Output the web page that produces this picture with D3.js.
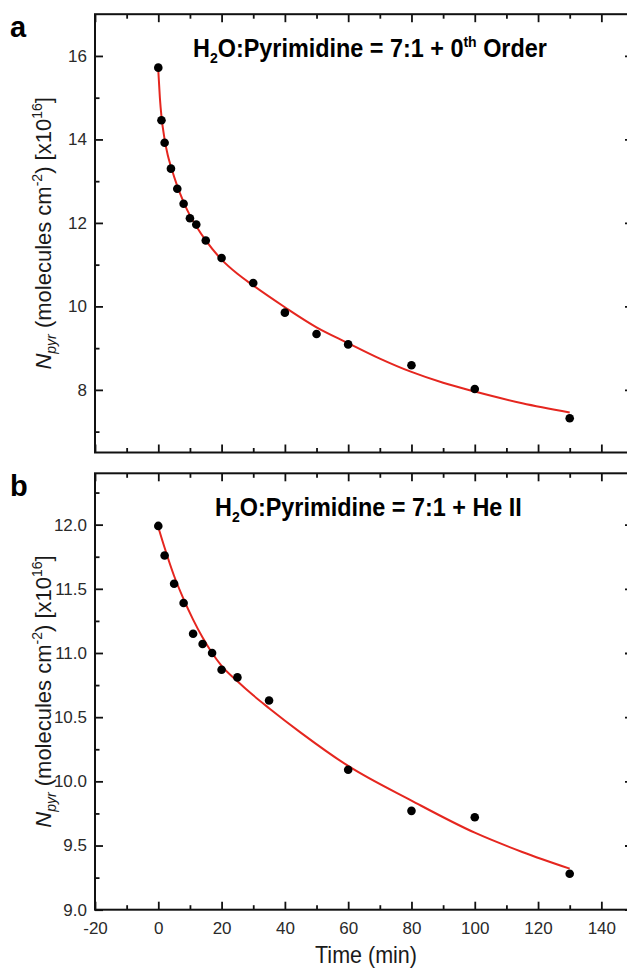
<!DOCTYPE html>
<html>
<head>
<meta charset="utf-8">
<script src="https://cdn.jsdelivr.net/npm/d3@7"></script>
<style>
  html, body { margin: 0; padding: 0; background: #fff; }
  svg { display: block; }
  text { font-family: "Liberation Sans", Arial, sans-serif; white-space: pre; }
</style>
</head>
<body>
<svg id="chart" width="627" height="973"></svg>
<script>
// ---------- data ----------
const timeA = [0, 1, 2, 4, 6, 8, 10, 12, 15, 20, 30, 40, 50, 60, 80, 100, 130];
const nA = [15.72, 14.46, 13.92, 13.30, 12.82, 12.46, 12.11, 11.96, 11.58, 11.16, 10.56, 9.85, 9.34, 9.09, 8.59, 8.02, 7.32];
const fitTimeA = [0, 0.5, 1, 2, 3, 4, 6, 8, 10, 12, 15, 20, 25, 30, 40, 50, 60, 70, 80, 90, 100, 115, 130];
const fitA = [15.65, 15.0, 14.55, 14.0, 13.62, 13.35, 12.88, 12.5, 12.18, 11.92, 11.58, 11.12, 10.78, 10.5, 9.98, 9.5, 9.12, 8.75, 8.43, 8.17, 7.96, 7.68, 7.46];

const timeB = [0, 2, 5, 8, 11, 14, 17, 20, 25, 35, 60, 80, 100, 130];
const nB = [11.99, 11.76, 11.54, 11.39, 11.15, 11.07, 11.0, 10.87, 10.81, 10.63, 10.09, 9.77, 9.72, 9.28];
const fitTimeB = [0, 2, 5, 8, 11, 14, 17, 20, 25, 30, 35, 45, 60, 80, 100, 115, 130];
const fitB = [11.98, 11.82, 11.6, 11.42, 11.26, 11.12, 11.0, 10.9, 10.78, 10.67, 10.57, 10.38, 10.12, 9.85, 9.6, 9.45, 9.32];

const xMajor = [-20, 0, 20, 40, 60, 80, 100, 120, 140];
const xMinor = [-10, 10, 30, 50, 70, 90, 110, 130];
const yMajorA = [8, 10, 12, 14, 16];
const yMinorA = [7, 9, 11, 13, 15];
const yMajorB = [9.0, 9.5, 10.0, 10.5, 11.0, 11.5, 12.0];
const yMinorB = [9.25, 9.75, 10.25, 10.75, 11.25, 11.75, 12.25];

const titleA = ["H", "2", "O:Pyrimidine = 7:1 + 0", "th", " Order"];
const titleB = ["H", "2", "O:Pyrimidine = 7:1 + He II"];

// ---------- layout ----------
const svg = d3.select("#chart");
const left = 95, right = 633;
const x = d3.scaleLinear().domain([-20, 150]).range([left, right]);

const panels = [
  { top: 14.2, bottom: 452.5, domain: [6.5, 17], major: yMajorA, minor: yMinorA, fmt: d3.format("d"),
    t: timeA, n: nA, ft: fitTimeA, fn: fitA, label: "a", title: titleA, titleSup: 3, labelX: false, tx: 193 },
  { top: 473.3, bottom: 909.7, domain: [9.0, 12.4], major: yMajorB, minor: yMinorB, fmt: d3.format(".1f"),
    t: timeB, n: nB, ft: fitTimeB, fn: fitB, label: "b", title: titleB, titleSup: -1, labelX: true, tx: 215 }
];

const ink = "#111";
const tickCol = "#2a2a2a";
let titleScale = null;

panels.forEach((p) => {
  const y = d3.scaleLinear().domain(p.domain).range([p.bottom, p.top]);
  const g = svg.append("g");

  const styleAxis = sel => {
    sel.select(".domain").remove();
    sel.selectAll("line").attr("stroke", ink).attr("stroke-width", 1.8);
    sel.selectAll("text").attr("fill", tickCol).style("font-size", "17px")
      .style("font-family", "'Liberation Sans', Arial, sans-serif");
  };
  const blank = () => "";
  // bottom
  g.append("g").attr("transform", `translate(0,${p.bottom})`)
    .call(d3.axisBottom(x).tickValues(xMajor).tickSize(-8).tickPadding(12)
      .tickFormat(p.labelX ? (d => String(d)) : blank))
    .call(styleAxis);
  g.append("g").attr("transform", `translate(0,${p.bottom})`)
    .call(d3.axisBottom(x).tickValues(xMinor).tickSize(-4.5).tickFormat(blank))
    .call(styleAxis);
  // top
  g.append("g").attr("transform", `translate(0,${p.top})`)
    .call(d3.axisTop(x).tickValues(xMajor).tickSize(-8).tickFormat(blank))
    .call(styleAxis);
  g.append("g").attr("transform", `translate(0,${p.top})`)
    .call(d3.axisTop(x).tickValues(xMinor).tickSize(-4.5).tickFormat(blank))
    .call(styleAxis);
  // left
  g.append("g").attr("transform", `translate(${left},0)`)
    .call(d3.axisLeft(y).tickValues(p.major).tickSize(-8).tickPadding(8).tickFormat(p.fmt))
    .call(styleAxis);
  g.append("g").attr("transform", `translate(${left},0)`)
    .call(d3.axisLeft(y).tickValues(p.minor).tickSize(-4.5).tickFormat(blank))
    .call(styleAxis);
  // right
  g.append("g").attr("transform", `translate(${right},0)`)
    .call(d3.axisRight(y).tickValues(p.major).tickSize(-8).tickFormat(blank))
    .call(styleAxis);
  g.append("g").attr("transform", `translate(${right},0)`)
    .call(d3.axisRight(y).tickValues(p.minor).tickSize(-4.5).tickFormat(blank))
    .call(styleAxis);

  // frame
  g.append("rect").attr("x", left).attr("y", p.top)
    .attr("width", right - left).attr("height", p.bottom - p.top)
    .attr("fill", "none").attr("stroke", ink).attr("stroke-width", 2);

  // fit line
  const line = d3.line().x(d => x(d[0])).y(d => y(d[1])).curve(d3.curveMonotoneX);
  g.append("path").datum(p.ft.map((t, i) => [t, p.fn[i]]))
    .attr("d", line).attr("fill", "none").attr("stroke", "#e5261f").attr("stroke-width", 2);

  // points
  g.selectAll("circle.pt").data(p.t.map((t, i) => [t, p.n[i]])).join("circle")
    .attr("class", "pt").attr("cx", d => x(d[0])).attr("cy", d => y(d[1]))
    .attr("r", 4.3).attr("fill", "#000");

  // panel letter
  g.append("text").attr("x", 10).attr("y", p.top + 23)
    .style("font-size", "29px").style("font-weight", "bold").attr("fill", "#000").text(p.label);

  // title
  const tg = g.append("g");
  const tt = tg.append("text").attr("x", 0).attr("y", 0)
    .style("font-size", "25px").style("font-weight", "bold").attr("fill", "#000");
  p.title.forEach((s, i) => {
    const ts = tt.append("tspan").text(s);
    if (i === 1) { ts.attr("dy", 6).style("font-size", "15px"); }
    else if (i === 2) { ts.attr("dy", -6); }
    else if (i === p.titleSup) { ts.attr("dy", -10).style("font-size", "15px"); }
    else if (p.titleSup > 0 && i === p.titleSup + 1) { ts.attr("dy", 10); }
  });
  const w = tt.node().getComputedTextLength();
  if (titleScale === null) titleScale = 354 / w;
  tg.attr("transform", `translate(${p.tx},${p.top + 43}) scale(${titleScale},1)`);

  // y axis label
  const cy = (p.top + p.bottom) / 2;
  const yl = g.append("text").attr("transform", `translate(51,${cy}) rotate(-90)`)
    .attr("text-anchor", "middle").style("font-size", "22px").attr("fill", "#1a1a1a");
  yl.append("tspan").style("font-style", "italic").text("N");
  yl.append("tspan").style("font-style", "italic").style("font-size", "14px").attr("dy", 5).text("pyr");
  yl.append("tspan").attr("dy", -5).text("\u00a0(molecules cm");
  yl.append("tspan").style("font-size", "14px").attr("dy", -9).text("-2");
  yl.append("tspan").attr("dy", 9).text(")\u00a0[x10");
  yl.append("tspan").style("font-size", "14px").attr("dy", -9).text("16");
  yl.append("tspan").attr("dy", 9).text("]");
});

// x axis title
svg.append("text").attr("x", 366).attr("y", 963).attr("text-anchor", "middle")
  .style("font-size", "24px").attr("fill", "#1a1a1a")
  .attr("textLength", 102).attr("lengthAdjust", "spacingAndGlyphs")
  .text("Time (min)");
</script>
</body>
</html>
